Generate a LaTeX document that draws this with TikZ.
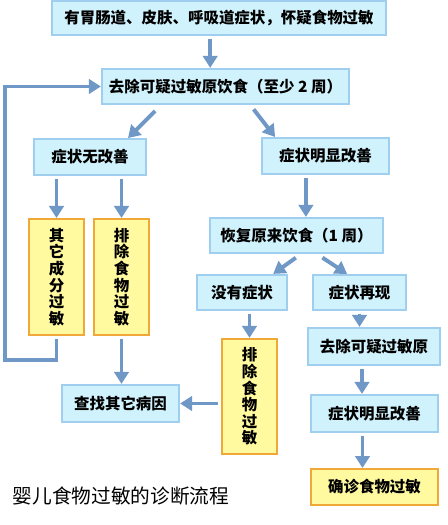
\documentclass[tikz,border=0pt]{standalone}
\usepackage{fontspec}
\setmainfont{Noto Sans CJK SC}
\usetikzlibrary{arrows.meta}

\definecolor{boxblue}{RGB}{208,242,252}
\definecolor{lineblue}{RGB}{160,206,238}
\definecolor{boxyellow}{RGB}{255,250,160}
\definecolor{lineorange}{RGB}{240,168,56}
\definecolor{arrowblue}{RGB}{112,152,198}

\begin{document}
\begin{tikzpicture}[x=0.025cm, y=-0.025cm,
	bluebox/.style={draw=lineblue, fill=boxblue, line width=1.4pt, inner sep=0pt,
		font=\fontsize{11}{13}\selectfont\bfseries},
	yellowbox/.style={draw=lineorange, fill=boxyellow, line width=1.4pt, inner sep=0pt,
		align=center, font=\fontsize{11}{11.8}\selectfont\bfseries},
	arr/.style={-{Triangle[width=0.36cm, length=0.3cm]}, draw=arrowblue, line width=2.8pt, shorten <=2pt}]
			\useasboundingbox (0,0) rectangle (447,525);

			% Hàng trên
			\node[bluebox, minimum width=8.35cm, minimum height=0.85cm] (top) at (219,18) {有胃肠道、皮肤、呼吸道症状，怀疑食物过敏};
			\node[bluebox, minimum width=6.18cm, minimum height=0.88cm] (diet) at (225.5,86.5) {去除可疑过敏原饮食（至少 2 周）};

			% Nhánh trái
			\node[bluebox, minimum width=2.8cm, minimum height=0.9cm] (noimp) at (90,157) {症状无改善};
			\node[yellowbox, minimum width=1.38cm, minimum height=2.9cm] (other) at (56.5,277) {其\\它\\成\\分\\过\\敏};
			\node[yellowbox, minimum width=1.38cm, minimum height=2.9cm] (excla) at (121.5,277) {排\\除\\食\\物\\过\\敏};
			\node[bluebox, minimum width=2.93cm, minimum height=0.93cm] (search) at (120.5,403.5) {查找其它病因};

			% Nhánh phải
			\node[bluebox, minimum width=3.18cm, minimum height=0.9cm] (imp) at (325.5,156) {症状明显改善};
			\node[bluebox, minimum width=4.33cm, minimum height=0.88cm] (restore) at (296.5,235.5) {恢复原来饮食（1 周）};
			\node[bluebox, minimum width=2.25cm, minimum height=0.88cm] (nosym) at (242,292.5) {没有症状};
			\node[bluebox, minimum width=2.33cm, minimum height=0.88cm] (recur) at (359.5,292.5) {症状再现};
			\node[yellowbox, minimum width=1.38cm, minimum height=2.88cm] (exclb) at (249.5,396.5) {排\\除\\食\\物\\过\\敏};
			\node[bluebox, minimum width=3.3cm, minimum height=0.93cm] (remove) at (374,346.5) {去除可疑过敏原};
			\node[bluebox, minimum width=3.18cm, minimum height=0.93cm] (impb) at (374.5,413.5) {症状明显改善};
			\node[yellowbox, minimum width=3.18cm, minimum height=0.9cm, font=\fontsize{11}{13}\selectfont\bfseries] (confirm) at (374.5,487) {确诊食物过敏};

			% Tiêu đề
			\node[font=\fontsize{14}{16}\selectfont] (title) at (121,496) {婴儿食物过敏的诊断流程};

			% Các mũi tên
			\draw[arr] ([xshift=-0.22cm]top.south) -- ([xshift=-0.22cm]top.south |- diet.north);
			\draw[arr] ([xshift=-1.71cm,yshift=-0.1cm]diet.south) -- ([xshift=0.95cm]noimp.north);
			\draw[arr] ([xshift=0.66cm,yshift=-0.05cm]diet.south) -- ([xshift=-1.26cm]imp.north);
			\draw[arr] (other.north |- noimp.south) -- (other.north);
			\draw[arr] (excla.north |- noimp.south) -- (excla.north);
			\draw[arr, line join=miter] (other.south) -- ++(0,24) -| (5,86.5) -- (diet.west);
			\draw[arr] (excla.south) -- (excla.south |- search.north);
			\draw[arr] (exclb.west |- search.east) -- (search.east);
			\draw[arr] ([xshift=-0.49cm]imp.south) -- ([xshift=-0.49cm]imp.south |- restore.north);
			\draw[arr] ([xshift=0.04cm,yshift=-0.05cm]restore.south) -- ([xshift=0.78cm]nosym.north);
			\draw[arr] ([xshift=0.59cm,yshift=-0.05cm]restore.south) -- ([xshift=-0.31cm]recur.north);
			\draw[arr] (exclb.north |- nosym.south) -- (exclb.north);
			\draw[arr] (recur.south) -- (recur.south |- remove.north);
			\draw[arr] ([xshift=-0.3cm]remove.south) -- ([xshift=-0.3cm]remove.south |- impb.north);
			\draw[arr] ([xshift=-0.3cm]impb.south) -- ([xshift=-0.3cm]impb.south |- confirm.north);
		\end{tikzpicture}
\end{document}
